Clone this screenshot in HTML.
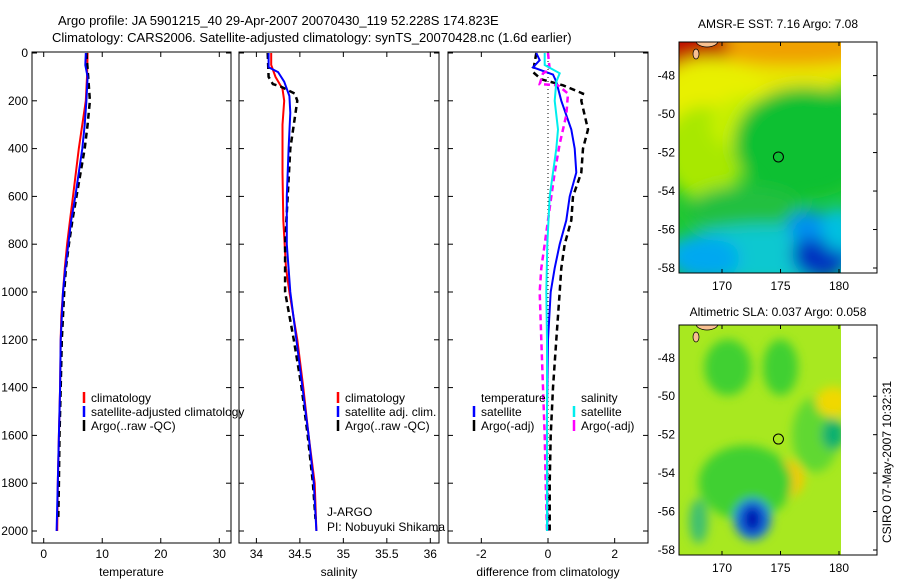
<!DOCTYPE html>
<html><head><meta charset="utf-8"><style>
body{margin:0;background:#fff;}
svg{display:block;font-family:"Liberation Sans",sans-serif;}
</style></head><body>
<svg id="chart" width="900" height="580" viewBox="0 0 900 580" xmlns="http://www.w3.org/2000/svg">
<defs>
<filter id="bl1" x="-50%" y="-50%" width="200%" height="200%"><feGaussianBlur stdDeviation="8"/></filter>
<filter id="bl2" x="-50%" y="-50%" width="200%" height="200%"><feGaussianBlur stdDeviation="5"/></filter>
<clipPath id="c1"><rect x="679" y="42" width="162" height="231"/></clipPath>
<clipPath id="c2"><rect x="679" y="325" width="162" height="230"/></clipPath>
</defs>
<text x="58" y="25" font-size="13">Argo profile: JA 5901215_40 29-Apr-2007 20070430_119 52.228S 174.823E</text>
<text x="52" y="42" font-size="13">Climatology: CARS2006. Satellite-adjusted climatology: synTS_20070428.nc (1.6d earlier)</text>
<g id="profiles"></g>
<g id="maps"></g>
<text transform="translate(891,462) rotate(-90)" font-size="12" text-anchor="middle">CSIRO 07-May-2007 10:32:31</text>
</svg>
<script>
// ---- data ----
const depthTicks=[0,200,400,600,800,1000,1200,1400,1600,1800,2000];
const tempTicks=[0,10,20,30];
const salTicks=[34,34.5,35,35.5,36];
const diffTicks=[-2,0,2];
const tClimDepth=[0,100,200,300,400,500,600,700,800,900,1000,1100,1200,1400,1600,1800,2000];
const tClim=[7.5,7.4,7.2,6.6,6.0,5.5,5.0,4.5,4.0,3.6,3.3,3.0,2.9,2.8,2.6,2.4,2.3];
const tSatDepth=[0,50,100,200,300,400,500,600,700,800,900,1000,1200,1400,1600,1800,2000];
const tSat=[7.2,7.1,7.5,7.3,7.0,6.6,6.0,5.4,4.7,4.2,3.7,3.3,2.9,2.8,2.6,2.4,2.2];
const tArgoDepth=[0,100,200,300,400,500,600,700,800,900,1000,1100,1200,1400,1600,1800,1950];
const tArgo=[7.3,7.6,7.9,7.5,7.0,6.3,5.6,4.9,4.3,3.8,3.5,3.3,3.1,2.9,2.7,2.6,2.5];
const sClimDepth=[0,50,100,150,200,300,500,700,900,1000,1200,1400,1600,1800,2000];
const sClim=[34.17,34.17,34.22,34.30,34.32,34.30,34.30,34.31,34.34,34.38,34.47,34.54,34.60,34.67,34.69];
const sSatDepth=[0,60,80,120,180,250,400,600,800,1000,1200,1400,1600,1800,2000];
const sSat=[34.14,34.14,34.25,34.32,34.38,34.39,34.37,34.35,34.35,34.39,34.46,34.53,34.60,34.66,34.69];
const sArgoDepth=[0,100,130,140,170,200,300,400,600,800,1000,1200,1400,1600,1800,1950];
const sArgo=[34.13,34.14,34.19,34.28,34.44,34.47,34.43,34.39,34.36,34.33,34.33,34.43,34.52,34.59,34.65,34.68];
const dTSatDepth=[0,30,60,90,120,200,320,400,500,600,700,800,900,1000,1200,1500,2000];
const dTSat=[-0.35,-0.25,-0.45,0.15,0.25,0.4,0.7,0.8,0.85,0.65,0.55,0.35,0.2,0.08,0,-0.03,-0.02];
const dTArgoDepth=[0,80,110,135,170,200,320,400,500,600,700,800,900,1000,1200,1400,1600,1800,2000];
const dTArgo=[-0.35,-0.45,-0.2,0.45,1.05,1.0,1.2,1.05,1.0,0.75,0.7,0.5,0.4,0.35,0.25,0.15,0.08,0.05,0.05];
const dSSatDepth=[0,50,85,120,200,320,400,500,600,800,1000,1200,2000];
const dSSat=[-0.1,-0.1,0.35,0.25,0.2,0.3,0.25,0.15,0.05,-0.02,-0.05,-0.03,-0.03];
const dSArgoDepth=[0,70,85,130,135,170,260,380,500,600,700,800,900,1000,1200,1400,1600,1800,2000];
const dSArgo=[0,0.05,-0.15,-0.25,0.3,0.6,0.55,0.35,0.2,0.1,0,-0.1,-0.2,-0.25,-0.2,-0.15,-0.1,-0.07,-0.03];
const lonTicks=[170,175,180];
const latTicks=[-48,-50,-52,-54,-56,-58];

const NS="http://www.w3.org/2000/svg";
function mk(tag,attrs,parent){const e=document.createElementNS(NS,tag);for(const k in attrs)e.setAttribute(k,attrs[k]);parent.appendChild(e);return e;}
const G=document.getElementById('profiles');
const yD=d=>53+d*(478/2000);

function panel(name,x0,x1,xmin,xmax,ticks,label,showY){
  const sx=v=>x0+(v-xmin)/(xmax-xmin)*(x1-x0);
  const g=mk('g',{},G);
  
  
  const fr=mk('rect',{x:x0,y:52,width:x1-x0,height:491,fill:'none',stroke:'#000','stroke-width':1},g);
  
  
  ticks.forEach(t=>{const X=sx(t);
    mk('line',{x1:X,x2:X,y1:543,y2:538,stroke:'#000'},g);
    mk('line',{x1:X,x2:X,y1:52,y2:57,stroke:'#000'},g);
    const tx=mk('text',{x:X,y:558,'font-size':12,'text-anchor':'middle'},g);tx.textContent=t;
    
    });
  depthTicks.forEach(d=>{const Y=yD(d);
    mk('line',{x1:x0,x2:x0+5,y1:Y,y2:Y,stroke:'#000'},g);
    mk('line',{x1:x1,x2:x1-5,y1:Y,y2:Y,stroke:'#000'},g);
    if(showY){const tx=mk('text',{x:x0-4,y:Y+4,'font-size':12,'text-anchor':'end'},g);tx.textContent=d;
      
      }});
  const lb=mk('text',{x:(x0+x1)/2,y:576,'font-size':12,'text-anchor':'middle'},g);lb.textContent=label;
  
  
  return {g,sx};
}
function line(p,ds,vs,color,dash,w,nm){
  const pts=ds.map((d,i)=>p.sx(vs[i]).toFixed(1)+','+yD(d).toFixed(1)).join(' ');
  const l=mk('polyline',{points:pts,fill:'none',stroke:color,'stroke-width':w,'stroke-dasharray':dash||'none'},p.g);
  
  
}
function legend(g,x,y,items){
  items.forEach((it,i)=>{const Y=y+i*14;
    mk('line',{x1:x,x2:x,y1:Y-10,y2:Y+1,stroke:it[1],'stroke-width':2.5},g);
    const t=mk('text',{x:x+7,y:Y,'font-size':12},g);t.textContent=it[0];
    
    });
}
const p1=panel('temperature',32,231,-2,32,tempTicks,'temperature',true);
line(p1,tClimDepth,tClim,'#f00',null,2,'temperature-climatology-line');
line(p1,tArgoDepth,tArgo,'#000','6,4',2.5,'temperature-argo-line');
line(p1,tSatDepth,tSat,'#00f',null,2,'temperature-satellite-line');
legend(p1.g,84,402,[['climatology','#f00'],['satellite-adjusted climatology','#00f'],['Argo(..raw -QC)','#000']]);

const p2=panel('salinity',239,439,33.8,36.1,salTicks,'salinity',false);
line(p2,sClimDepth,sClim,'#f00',null,2,'salinity-climatology-line');
line(p2,sArgoDepth,sArgo,'#000','6,4',2.5,'salinity-argo-line');
line(p2,sSatDepth,sSat,'#00f',null,2,'salinity-satellite-line');
legend(p2.g,338,402,[['climatology','#f00'],['satellite adj. clim.','#00f'],['Argo(..raw -QC)','#000']]);
let t1=mk('text',{x:327,y:516,'font-size':12},p2.g);t1.textContent='J-ARGO';

let t2=mk('text',{x:327,y:531,'font-size':12},p2.g);t2.textContent='PI: Nobuyuki Shikama';


const p3=panel('difference',448,648,-3,3,diffTicks,'difference from climatology',false);
mk('line',{x1:p3.sx(0),x2:p3.sx(0),y1:yD(0),y2:yD(2000),stroke:'#000','stroke-dasharray':'1,3'},p3.g);
line(p3,dTArgoDepth,dTArgo,'#000','6,4',2.5,'diff-temperature-argo-line');
line(p3,dTSatDepth,dTSat,'#00f',null,2,'diff-temperature-satellite-line');
line(p3,dSArgoDepth,dSArgo,'#f0f','6,4',2.5,'diff-salinity-argo-line');
line(p3,dSSatDepth,dSSat,'#0ee',null,2,'diff-salinity-satellite-line');
let lh=mk('text',{x:481,y:402,'font-size':12},p3.g);lh.textContent='temperature';

let lh2=mk('text',{x:581,y:402,'font-size':12},p3.g);lh2.textContent='salinity';

legend(p3.g,474,416,[['satellite','#00f'],['Argo(-adj)','#000']]);
legend(p3.g,574,416,[['satellite','#0ee'],['Argo(-adj)','#f0f']]);

// ---- maps ----
const M=document.getElementById('maps');
function map(name,top,bottom,lat48y,lat58y,title,titleY,clip,blobs,base,fl){
  const g=mk('g',{},M);
  
  
  const lx=v=>722+(v-170)*11.7;
  const ly=v=>lat48y+(v+48)/(-10)*(lat58y-lat48y);
  const ig=mk('g',{'clip-path':'url(#'+clip+')'},g);
  mk('rect',{x:679,y:top,width:162,height:bottom-top,fill:base},ig);
  const bg=mk('g',{filter:'url(#'+fl+')'},ig);
  blobs.forEach(b=>mk('ellipse',{cx:lx(b[0]),cy:ly(b[1]),rx:b[2]*11.7,ry:b[3]*18.7,fill:b[4]},bg));
  mk('ellipse',{cx:707,cy:top-1,rx:11,ry:6,fill:'#f8c090',stroke:'#000','stroke-width':0.7},ig);
  mk('ellipse',{cx:696,cy:top+12,rx:3,ry:5,fill:'#f8c090',stroke:'#000','stroke-width':0.7},ig);
  mk('circle',{cx:lx(174.823),cy:ly(-52.228),r:5,fill:'none',stroke:'#000','stroke-width':1},g);
  mk('rect',{x:679,y:top,width:198,height:bottom-top,fill:'none',stroke:'#000'},g);
  lonTicks.forEach(v=>{const X=lx(v);
    mk('line',{x1:X,x2:X,y1:bottom,y2:bottom-4,stroke:'#000'},g);
    mk('line',{x1:X,x2:X,y1:top,y2:top+4,stroke:'#000'},g);
    const t=mk('text',{x:X,y:bottom+17,'font-size':12,'text-anchor':'middle'},g);t.textContent=v;
    
    });
  latTicks.forEach(v=>{const Y=ly(v);
    mk('line',{x1:877,x2:873,y1:Y,y2:Y,stroke:'#000'},g);
    const t=mk('text',{x:675,y:Y+4,'font-size':12,'text-anchor':'end'},g);t.textContent=v;
    
    });
  const tt=mk('text',{x:778,y:titleY,'font-size':12,'text-anchor':'middle'},g);tt.textContent=title;
  
  
}
const sstBlobs=[
 [172,-47,12,2.2,'#e8e800'],[176,-46.5,8,1.0,'#f0a000'],[167.5,-46.5,3,2,'#c01000'],[167.5,-48.3,2.5,1.2,'#e06000'],
 [169,-49.5,5,2.5,'#e8f000'],[168.5,-52,3.5,2.5,'#a8e800'],[172,-50.5,3,1.5,'#c8f000'],
 [177,-51.5,6,3,'#10c030'],[172,-55,5,1.3,'#20c040'],
 [174,-57.3,9,1.6,'#10c8d0'],[168.5,-57.5,3,1.2,'#00a8f0'],[178.5,-57.3,2.5,1.3,'#0030c0'],[177.5,-55.8,2,0.8,'#0090f0'],[180,-56,1.5,1.2,'#00c0e0']];
map('sst',42,273,75.6,268,'AMSR-E SST: 7.16 Argo: 7.08',28,'c1',sstBlobs,'#20c830','bl1');
const slaBlobs=[
 [170.5,-48.5,2,1.5,'#40d030'],[175,-48.5,1.5,1.5,'#40d030'],[178,-52,2,2,'#60d830'],
 [179.5,-50.3,1.5,0.8,'#f0d800'],[175.5,-54.3,1.5,1,'#f8c800'],[172,-54.5,4,2,'#40d030'],
 [179.5,-52,1,0.8,'#10b070'],[168,-56.5,0.8,1.2,'#40c070'],[172.6,-56.4,1.6,1.1,'#1870e0'],[172.6,-56.4,0.8,0.7,'#0010b0']];
map('sla',325,555,357.8,550,'Altimetric SLA: 0.037 Argo: 0.058',316,'c2',slaBlobs,'#a8e820','bl2');
</script>
</body></html>
